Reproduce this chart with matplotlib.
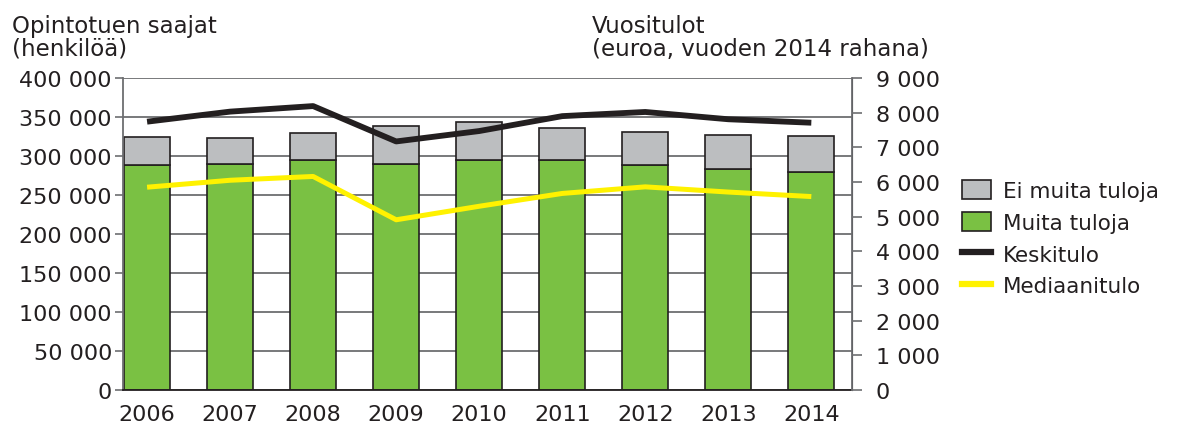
import numpy as np
import matplotlib
matplotlib.use("Agg")
import matplotlib.pyplot as plt
from matplotlib.patches import Patch
from matplotlib.lines import Line2D

years = ["2006", "2007", "2008", "2009", "2010", "2011", "2012", "2013", "2014"]
# recipients (persons)
muita_tuloja = [288000, 290000, 295000, 290000, 295000, 295000, 289000, 283000, 279000]
total_saajat = [324000, 323000, 329000, 339000, 343000, 336000, 331000, 327000, 326000]
ei_muita = [t - m for t, m in zip(total_saajat, muita_tuloja)]
# yearly income (euro)
keskitulo = [7740, 8030, 8190, 7170, 7470, 7900, 8020, 7810, 7710]
mediaanitulo = [5850, 6050, 6160, 4910, 5300, 5670, 5860, 5710, 5580]

left_ticks = [0, 50000, 100000, 150000, 200000, 250000, 300000, 350000, 400000]
right_ticks = [0, 1000, 2000, 3000, 4000, 5000, 6000, 7000, 8000, 9000]

GREEN = "#7AC143"
GRAY = "#BCBEC0"
DARK = "#231F20"
YELLOW = "#FFF200"
GRID = "#6d6e71"
FS = 16

plt.rcParams['font.family'] = ['DejaVu Sans']

def fmt(v):
    return f"{v:,.0f}".replace(",", " ")

fig = plt.figure(figsize=(11.82, 4.27), dpi=100)
ax = fig.add_axes([123 / 1182, 1 - 391 / 427, (852 - 123) / 1182, (391 - 79) / 427])

x = np.arange(len(years))
ax.set_axisbelow(True)
ax.bar(x, muita_tuloja, width=0.555, color=GREEN, edgecolor=DARK, linewidth=1.2, zorder=2)
ax.bar(x, ei_muita, bottom=muita_tuloja, width=0.555, color=GRAY, edgecolor=DARK, linewidth=1.2, zorder=2)

ax.set_xlim(-0.29, 8.49)
ax.set_ylim(0, 400000)
ax.set_yticks(left_ticks)
ax.set_yticklabels([fmt(v) for v in left_ticks])
ax.set_xticks(x)
ax.set_xticklabels(years)
ax.yaxis.grid(True, color=GRID, linewidth=1.3)
ax.tick_params(axis='y', direction='out', length=6, width=1.2, color=GRID, labelsize=FS, pad=2, labelcolor=DARK)
ax.tick_params(axis='x', length=0, labelsize=FS, pad=10, labelcolor=DARK)
ax.spines['top'].set_visible(False)
ax.spines['left'].set_color(GRID)
ax.spines['left'].set_linewidth(1.3)
ax.spines['bottom'].set_color(DARK)
ax.spines['bottom'].set_linewidth(1.3)

ax2 = ax.twinx()
ax2.plot(x, keskitulo, color=DARK, linewidth=4.2, solid_capstyle='butt', zorder=3)
ax2.plot(x, mediaanitulo, color=YELLOW, linewidth=3.6, solid_capstyle='butt', zorder=3)
ax2.set_ylim(0, 9000)
ax2.set_yticks(right_ticks)
ax2.set_yticklabels([fmt(v) for v in right_ticks])
ax2.tick_params(axis='y', direction='out', length=7, width=1.2, color=GRID, labelsize=FS, pad=10, labelcolor=DARK)
for s in ['top', 'left', 'bottom']:
    ax2.spines[s].set_visible(False)
ax2.spines['right'].set_color(GRID)
ax2.spines['right'].set_linewidth(1.3)

fig.text(12 / 1182, 1 - 15 / 427, "Opintotuen saajat\n(henkilöä)",
         fontsize=16.5, va='top', ha='left', color=DARK, linespacing=1.0)
fig.text(592 / 1182, 1 - 15 / 427, "Vuositulot\n(euroa, vuoden 2014 rahana)",
         fontsize=16.5, va='top', ha='left', color=DARK, linespacing=1.0)

handles = [
    Patch(facecolor=GRAY, edgecolor=DARK, linewidth=1.2),
    Patch(facecolor=GREEN, edgecolor=DARK, linewidth=1.2),
    Line2D([], [], color=DARK, linewidth=4.5),
    Line2D([], [], color=YELLOW, linewidth=4.5),
]
labels = ["Ei muita tuloja", "Muita tuloja", "Keskitulo", "Mediaanitulo"]
fig.legend(handles, labels, loc='upper left', bbox_to_anchor=(962 / 1182, 1 - 181 / 427),
           frameon=False, fontsize=15.5, handlelength=1.35, handleheight=1.0,
           handletextpad=0.55, labelspacing=0.5, borderpad=0, borderaxespad=0,
           labelcolor=DARK)

fig.savefig("out.png", dpi=100)
